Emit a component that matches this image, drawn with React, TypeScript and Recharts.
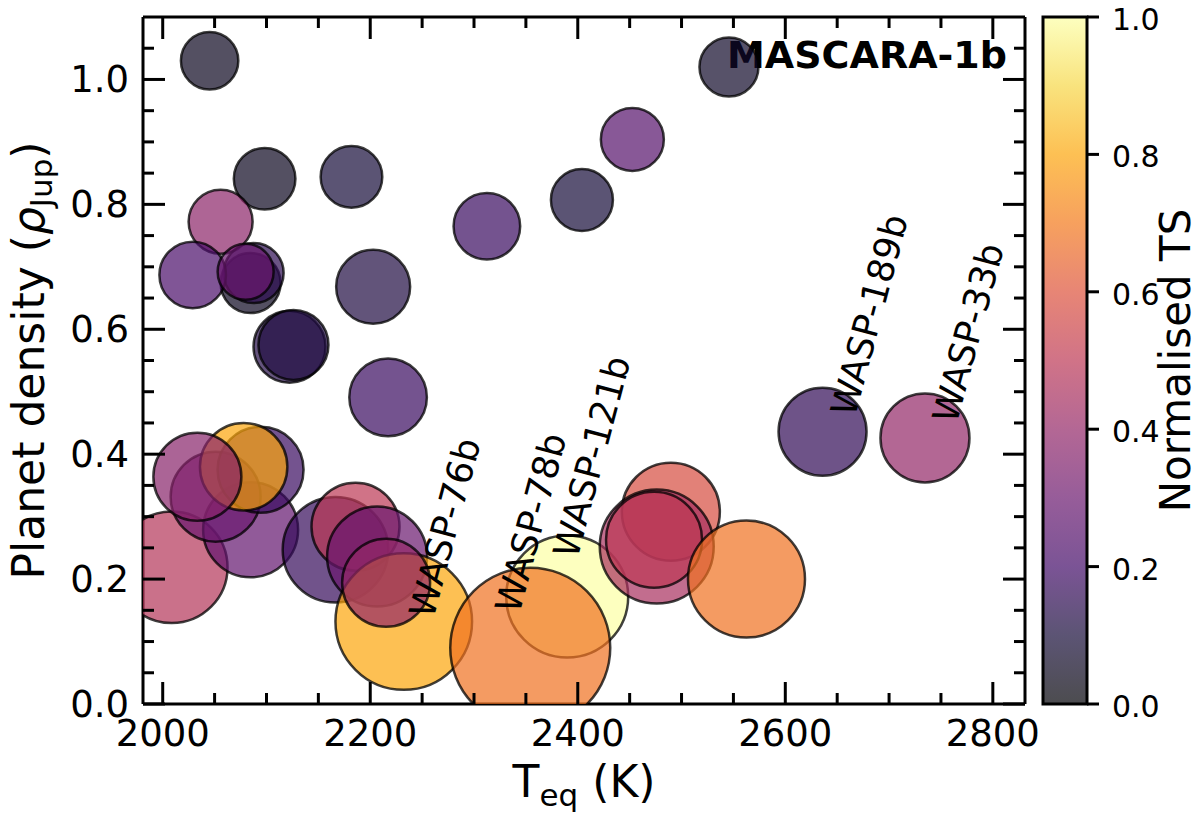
import React from 'react';
import {
  ScatterChart,
  Scatter,
  XAxis,
  YAxis,
  ZAxis,
  BarChart,
  Bar,
} from 'recharts';

// planets: equilibrium temperature, density, normalised TS, marker size
const teq = [
  2045.2, 2545.7, 2098.2, 2181.9, 2404.0, 2452.6, 2312.4, 2055.8, 2084.7, 2087.6,
  2028.9, 2079.9, 2202.8, 2122.2, 2126.0, 2217.2, 2008.7, 2084.7, 2051.0, 2094.3,
  2078.0, 2033.4, 2166.5, 2185.8, 2206.6, 2389.8, 2232.3, 2215.3, 2354.2, 2489.7,
  2476.1, 2473.5, 2562.6, 2635.9, 2734.6,
];
const rho = [
  1.03, 1.02, 0.841, 0.844, 0.807, 0.904, 0.765, 0.772, 0.674, 0.69,
  0.687, 0.692, 0.668, 0.572, 0.575, 0.491, 0.219, 0.279, 0.332, 0.375,
  0.38, 0.364, 0.247, 0.284, 0.236, 0.172, 0.132, 0.194, 0.09, 0.308,
  0.252, 0.263, 0.2, 0.436, 0.426,
];
const normTS = [
  0.05, 0.07, 0.05, 0.1, 0.1, 0.25, 0.18, 0.38, 0.05, 0.15,
  0.22, 0.3, 0.12, 0.13, 0.12, 0.18, 0.48, 0.28, 0.3, 0.18,
  0.8, 0.37, 0.17, 0.5, 0.3, 1.0, 0.8, 0.4, 0.68, 0.58,
  0.45, 0.5, 0.68, 0.16, 0.4,
];
const markerSize = [
  824, 870, 949, 949, 961, 992, 1109, 1024, 900, 900,
  1109, 784, 1369, 1296, 1225, 1505, 3114, 2256, 2025, 1849,
  1910, 1936, 2788, 1936, 2500, 3721, 4665, 1936, 6400, 2401,
  3249, 2304, 3422, 1936, 1980,
];

// annotated planets
const labelNames = ['WASP-76b', 'WASP-78b', 'WASP-121b', 'WASP-189b', 'WASP-33b'];
const labelTeq = [2260.8, 2343.6, 2399.4, 2667.0, 2765.0];
const labelRho = [0.135, 0.143, 0.231, 0.458, 0.447];

const xTicks = [
  2000, 2050, 2100, 2150, 2200, 2250, 2300, 2350, 2400, 2450, 2500, 2550, 2600, 2650,
  2700, 2750, 2800,
];
const xMajor = [2000, 2200, 2400, 2600, 2800];
const yTicks = [
  0, 0.05, 0.1, 0.15, 0.2, 0.25, 0.3, 0.35, 0.4, 0.45, 0.5, 0.55, 0.6, 0.65, 0.7,
  0.75, 0.8, 0.85, 0.9, 0.95, 1.0, 1.05,
];
const yMajor = [0, 0.2, 0.4, 0.6, 0.8, 1.0];
const cbTicks = [0, 0.2, 0.4, 0.6, 0.8, 1.0];

const FONT = 'DejaVu Sans';

// matplotlib inferno, sampled every 0.1
const INFERNO = [
  '#000004', '#160b39', '#420a68', '#6a176e', '#932667', '#bc3754',
  '#dd513a', '#f37819', '#fca50a', '#f6d746', '#fcffa4',
];

const hexToRgb = (h: string) => [
  parseInt(h.slice(1, 3), 16),
  parseInt(h.slice(3, 5), 16),
  parseInt(h.slice(5, 7), 16),
];

const inferno = (t: number) => {
  const v = Math.min(1, Math.max(0, t)) * 10;
  const i = Math.min(9, Math.floor(v));
  const f = v - i;
  const a = hexToRgb(INFERNO[i]);
  const b = hexToRgb(INFERNO[i + 1]);
  const c = a.map((x, k) => Math.round(x + (b[k] - x) * f));
  return `rgb(${c[0]},${c[1]},${c[2]})`;
};

const planets = teq.map((t, i) => ({ teq: t, rho: rho[i], ts: normTS[i], s: markerSize[i] }));
const labels = labelNames.map((name, i) => ({ teq: labelTeq[i], rho: labelRho[i], name }));

const isIn = (v: number, list: number[]) => list.some((m) => Math.abs(m - v) < 1e-6);

const BottomTick = ({ x, y, payload }: any) => {
  const major = isIn(payload.value, xMajor);
  return (
    <g>
      <line x1={x} y1={y} x2={x} y2={y - (major ? 22 : 11)} stroke="#000" strokeWidth={3} />
      {major && (
        <text x={x} y={y + 42} textAnchor="middle" fontSize={37} fontFamily={FONT} fill="#000">
          {payload.value}
        </text>
      )}
    </g>
  );
};

const TopTick = ({ x, y, payload }: any) => {
  const major = isIn(payload.value, xMajor);
  return <line x1={x} y1={y} x2={x} y2={y + (major ? 22 : 11)} stroke="#000" strokeWidth={3} />;
};

const LeftTick = ({ x, y, payload }: any) => {
  const major = isIn(payload.value, yMajor);
  return (
    <g>
      <line x1={x} y1={y} x2={x + (major ? 22 : 11)} y2={y} stroke="#000" strokeWidth={3} />
      {major && (
        <text x={x - 14} y={y + 13} textAnchor="end" fontSize={37} fontFamily={FONT} fill="#000">
          {payload.value.toFixed(1)}
        </text>
      )}
    </g>
  );
};

const RightTick = ({ x, y, payload }: any) => {
  const major = isIn(payload.value, yMajor);
  return <line x1={x} y1={y} x2={x - (major ? 22 : 11)} y2={y} stroke="#000" strokeWidth={3} />;
};

const CbTick = ({ x, y, payload }: any) => (
  <text x={x} y={y + 13} textAnchor="start" fontSize={30} fontFamily={FONT} fill="#000">
    {payload.value.toFixed(1)}
  </text>
);

const Bubble = (p: any) => {
  const r = p.width ? p.width / 2 : Math.sqrt(p.size / Math.PI);
  return (
    <circle
      cx={p.cx}
      cy={p.cy}
      r={r}
      fill={inferno(p.payload.ts)}
      fillOpacity={0.7}
      stroke="#000"
      strokeOpacity={0.75}
      strokeWidth={2.5}
    />
  );
};

const PlanetLabel = (p: any) => (
  <text
    x={p.cx}
    y={p.cy}
    transform={`rotate(-75 ${p.cx} ${p.cy})`}
    fontSize={36}
    fontFamily={FONT}
    fill="#000"
  >
    {p.payload.name}
  </text>
);

const XTitle = ({ viewBox }: any) => {
  const cx = viewBox.x + viewBox.width / 2;
  return (
    <text x={cx} y={797} textAnchor="middle" fontSize={44} fontFamily={FONT} fill="#000">
      T
      <tspan fontSize={31} dy={9}>eq</tspan>
      <tspan dy={-9}> (K)</tspan>
    </text>
  );
};

const YTitle = ({ viewBox }: any) => {
  const cy = viewBox.y + viewBox.height / 2;
  return (
    <text
      x={44}
      y={cy}
      transform={`rotate(-90 44 ${cy})`}
      textAnchor="middle"
      fontSize={44}
      fontFamily={FONT}
      fill="#000"
    >
      Planet density (<tspan fontStyle="italic">ρ</tspan>
      <tspan fontSize={31} dy={8}>Jup</tspan>
      <tspan dy={-8}>)</tspan>
    </text>
  );
};

const PanelTag = ({ viewBox }: any) => (
  <text
    x={viewBox.x + viewBox.width - 18}
    y={viewBox.y + 52}
    textAnchor="end"
    fontSize={38}
    fontWeight="bold"
    fontFamily={FONT}
    fill="#000"
  >
    MASCARA-1b
  </text>
);

const CbTitle = ({ viewBox }: any) => {
  const cy = viewBox.y + viewBox.height / 2;
  return (
    <text
      x={160}
      y={cy}
      transform={`rotate(-90 160 ${cy})`}
      textAnchor="middle"
      fontSize={42}
      fontFamily={FONT}
      fill="#000"
    >
      Normalised TS
    </text>
  );
};

const axisLine = { stroke: '#000', strokeWidth: 3 };

export default function App() {
  return (
    <div style={{ position: 'absolute', left: 0, top: 0, width: 1200, height: 819, background: '#fff' }}>
      <svg width={0} height={0} style={{ position: 'absolute' }}>
        <defs>
          <linearGradient id="cbGrad" x1="0" y1="1" x2="0" y2="0">
            {INFERNO.map((c, i) => (
              <stop key={c} offset={`${i * 10}%`} stopColor={c} stopOpacity={0.7} />
            ))}
          </linearGradient>
        </defs>
      </svg>

      <div style={{ position: 'absolute', left: 0, top: 0 }}>
        <ScatterChart width={1200} height={819} margin={{ top: 16, right: 174, bottom: 15, left: 43 }}>
          <XAxis
            xAxisId="b"
            type="number"
            dataKey="teq"
            domain={[1981, 2831]}
            allowDataOverflow
            ticks={xTicks}
            interval={0}
            tick={<BottomTick />}
            tickSize={0}
            tickMargin={0}
            tickLine={false}
            axisLine={axisLine}
            height={100}
            label={{ content: <XTitle /> }}
          />
          <XAxis
            xAxisId="t"
            type="number"
            orientation="top"
            dataKey="teq"
            domain={[1981, 2831]}
            allowDataOverflow
            ticks={xTicks}
            interval={0}
            tick={<TopTick />}
            tickSize={0}
            tickMargin={0}
            tickLine={false}
            axisLine={axisLine}
            height={1}
            label={{ content: <PanelTag /> }}
          />
          <YAxis
            yAxisId="l"
            type="number"
            dataKey="rho"
            domain={[0, 1.1]}
            allowDataOverflow
            ticks={yTicks}
            interval={0}
            tick={<LeftTick />}
            tickSize={0}
            tickMargin={0}
            tickLine={false}
            axisLine={axisLine}
            width={100}
            label={{ content: <YTitle /> }}
          />
          <YAxis
            yAxisId="r"
            type="number"
            orientation="right"
            dataKey="rho"
            domain={[0, 1.1]}
            allowDataOverflow
            ticks={yTicks}
            interval={0}
            tick={<RightTick />}
            tickSize={0}
            tickMargin={0}
            tickLine={false}
            axisLine={axisLine}
            width={1}
          />
          <ZAxis type="number" dataKey="s" domain={[0, 6400]} range={[0, 6400 * Math.PI]} />
          <Scatter
            xAxisId="b"
            yAxisId="l"
            data={planets}
            shape={Bubble}
            isAnimationActive={false}
          />
          <Scatter
            xAxisId="b"
            yAxisId="l"
            data={labels}
            shape={PlanetLabel}
            isAnimationActive={false}
          />
        </ScatterChart>
      </div>

      <div style={{ position: 'absolute', left: 1030, top: 0 }}>
        <BarChart
          width={170}
          height={819}
          data={[{ k: 'cb', v: 1 }]}
          margin={{ top: 17, right: 33, bottom: 115, left: 13 }}
          barCategoryGap={0}
        >
          <XAxis dataKey="k" type="category" hide />
          <YAxis
            orientation="right"
            type="number"
            domain={[0, 1]}
            ticks={cbTicks}
            interval={0}
            tick={<CbTick />}
            tickLine={{ stroke: '#000', strokeWidth: 3 }}
            tickSize={12}
            tickMargin={13}
            axisLine={false}
            width={80}
            label={{ content: <CbTitle /> }}
          />
          <Bar
            dataKey="v"
            fill="url(#cbGrad)"
            stroke="#000"
            strokeWidth={3}
            isAnimationActive={false}
          />
        </BarChart>
      </div>
    </div>
  );
}
